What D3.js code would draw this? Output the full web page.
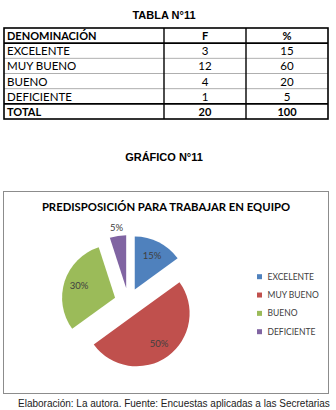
<!DOCTYPE html>
<html>
<head>
<meta charset="utf-8">
<script src="https://cdn.jsdelivr.net/npm/d3@7"></script>
<style>
  html, body { margin: 0; padding: 0; background: #fff; }
  svg { display: block; }
</style>
</head>
<body>
<svg id="page" width="336" height="410"></svg>
<script>
// table data
const categories = ['EXCELENTE', 'MUY BUENO', 'BUENO', 'DEFICIENTE'];
const frequency = [3, 12, 4, 1];
const percent = [15, 60, 20, 5];
const totalRow = ['TOTAL', 20, 100];
const headers = ['DENOMINACIÓN', 'F', '%'];

// pie data (as printed on the chart)
const chartPercent = [15, 50, 30, 5];
const colors = ['#4F81BD', '#C0504D', '#9BBB59', '#8064A2'];

const svg = d3.select('#page');
const calibri = 'Lato, "Open Sans", sans-serif';
const arial = '"Liberation Sans", Arial, sans-serif';

// ---- table title
svg.append('text')
    .attr('x', 164).attr('y', 19)
    .attr('text-anchor', 'middle')
    .style('font', `bold 11px ${arial}`)
    .text('TABLA N°11');

// ---- table
const rows = [headers]
    .concat(categories.map((c, i) => [c, frequency[i], percent[i]]))
    .concat([totalRow]);

const colEdges = [4, 164, 246, 328];
const y = d3.scaleBand().domain(d3.range(rows.length)).range([28, 119]);

const table = svg.append('g').attr('class', 'table');

// thin grey row separators
table.selectAll('line.sep')
    .data(d3.range(2, rows.length - 1))
    .enter().append('line')
    .attr('class', 'sep')
    .attr('x1', colEdges[0]).attr('x2', colEdges[3])
    .attr('y1', i => y(i)).attr('y2', i => y(i))
    .attr('stroke', '#9a9a9a').attr('stroke-width', 0.8);

// thick header / total separators
table.selectAll('line.thick')
    .data([1, rows.length - 1])
    .enter().append('line')
    .attr('class', 'thick')
    .attr('x1', colEdges[0]).attr('x2', colEdges[3])
    .attr('y1', i => y(i)).attr('y2', i => y(i))
    .attr('stroke', '#000').attr('stroke-width', 1.6);

// column separators
table.selectAll('line.col')
    .data(colEdges.slice(1, 3))
    .enter().append('line')
    .attr('class', 'col')
    .attr('x1', d => d).attr('x2', d => d)
    .attr('y1', y(0)).attr('y2', y(rows.length - 1) + y.bandwidth())
    .attr('stroke', '#000').attr('stroke-width', 1.4);

table.append('rect')
    .attr('x', colEdges[0]).attr('y', y(0))
    .attr('width', colEdges[3] - colEdges[0])
    .attr('height', y.bandwidth() * rows.length)
    .attr('fill', 'none').attr('stroke', '#000').attr('stroke-width', 1.6);

rows.forEach((r, i) => {
    const bold = i === 0 || i === rows.length - 1;
    r.forEach((v, j) => {
        const isName = j === 0;
        table.append('text')
            .attr('x', isName ? colEdges[0] + 3 : (colEdges[j] + colEdges[j + 1]) / 2)
            .attr('y', y(i) + y.bandwidth() / 2 + 4.5)
            .attr('text-anchor', isName ? 'start' : 'middle')
            .style('font', bold ? `bold 11px ${calibri}` : `11.5px ${calibri}`)
            .attr('fill', '#000')
            .text(v);
    });
});

// ---- chart title
svg.append('text')
    .attr('x', 164).attr('y', 161)
    .attr('text-anchor', 'middle')
    .style('font', `bold 11px ${arial}`)
    .text('GRÁFICO N°11');

// chart frame
svg.append('rect')
    .attr('x', 3.5).attr('y', 191.5)
    .attr('width', 325).attr('height', 202)
    .attr('fill', '#fff').attr('stroke', '#8c8c8c').attr('stroke-width', 1);

svg.append('text')
    .attr('x', 166).attr('y', 211)
    .attr('text-anchor', 'middle')
    .style('font', `bold 11.3px ${calibri}`)
    .attr('fill', '#000')
    .text('PREDISPOSICIÓN PARA TRABAJAR EN EQUIPO');

// ---- pie
const cx = 128.4, cy = 302, radius = 53, explode = 14;
const pie = d3.pie().sort(null).value(d => d)(chartPercent);
const arc = d3.arc().innerRadius(0).outerRadius(radius);
const mid = d => (d.startAngle + d.endAngle) / 2;
const dir = (a, r) => [Math.sin(a) * r, -Math.cos(a) * r];

const pieG = svg.append('g').attr('transform', `translate(${cx},${cy})`);

const slices = pieG.selectAll('g.slice')
    .data(pie)
    .enter().append('g')
    .attr('class', 'slice')
    .attr('transform', d => `translate(${dir(mid(d), explode)})`);

slices.append('path')
    .attr('d', arc)
    .attr('fill', (d, i) => colors[i]);

slices.append('text')
    .attr('transform', d => `translate(${dir(mid(d), d.data < 10 ? radius + 8 : 38)})`)
    .attr('text-anchor', 'middle')
    .attr('dy', '0.35em')
    .style('font', `9.5px ${calibri}`)
    .attr('fill', '#404040')
    .text(d => d.data + '%');

// ---- legend
const legend = svg.append('g').attr('class', 'legend');
const ly = d3.scalePoint().domain(categories).range([276.7, 331.7]);

const items = legend.selectAll('g')
    .data(categories)
    .enter().append('g')
    .attr('transform', d => `translate(257,${ly(d)})`);

items.append('rect')
    .attr('x', 0).attr('y', -2.5)
    .attr('width', 5).attr('height', 5)
    .attr('fill', (d, i) => colors[i]);

items.append('text')
    .attr('x', 10.5).attr('dy', '0.35em')
    .style('font', `8.5px ${calibri}`)
    .attr('fill', '#404040')
    .text(d => d);

// ---- footer
svg.append('text')
    .attr('x', 18).attr('y', 407)
    .style('font', `10px ${arial}`)
    .attr('fill', '#222')
    .text('Elaboración: La autora. Fuente: Encuestas aplicadas a las Secretarias');
</script>
</body>
</html>
